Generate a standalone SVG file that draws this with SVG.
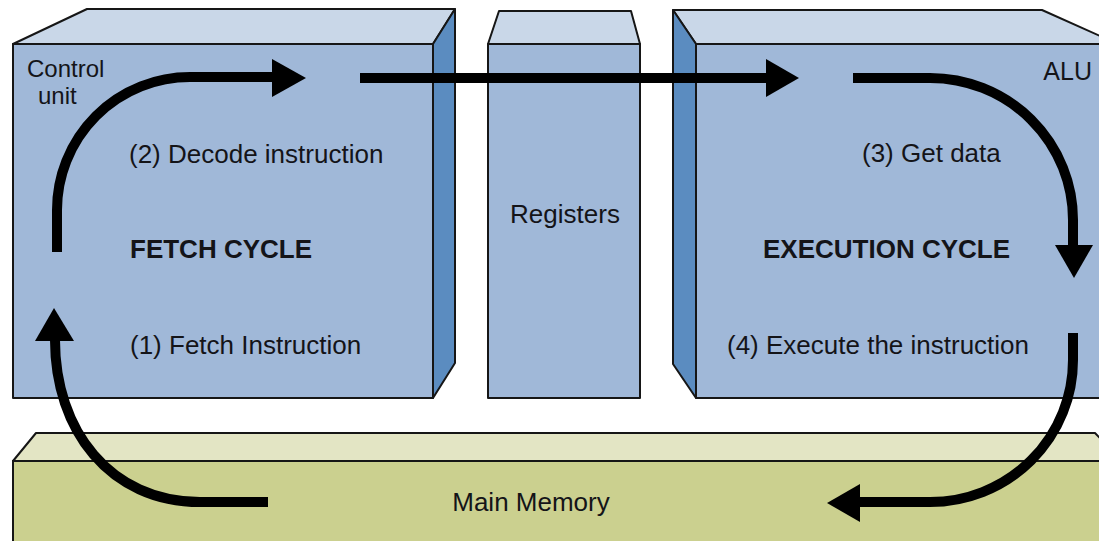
<svg xmlns="http://www.w3.org/2000/svg" width="1099" height="541" viewBox="0 0 1099 541">
<style>
.front{fill:#a0b8d8;stroke:#161616;stroke-width:2;stroke-linejoin:round}
.top{fill:#c9d7e8;stroke:#161616;stroke-width:2;stroke-linejoin:round}
.side{fill:#5b8cc0;stroke:#161616;stroke-width:2;stroke-linejoin:round}
.mfront{fill:#cbd08f;stroke:#161616;stroke-width:2}
.mtop{fill:#e3e5c4;stroke:#161616;stroke-width:2;stroke-linejoin:round}
.t{font-family:"Liberation Sans",Arial,sans-serif;font-size:26px;fill:#141418}
.s{font-size:25px}
.c{font-size:24px}
.b{font-weight:bold}
.arc{fill:none;stroke:#000;stroke-width:10}
.head{fill:#000}
</style>
<rect width="1099" height="541" fill="#fff"/>
<g id="memory">
<polygon class="mtop" points="13,461 36,433 1095,433 1122,461"/>
<rect class="mfront" x="13" y="461" width="1110" height="90"/>
<text class="t" x="531" y="511" text-anchor="middle">Main Memory</text>
</g>
<g id="control-unit">
<polygon class="top" points="13,44 87,9 455,9 433,44"/>
<polygon class="side" points="433,44 455,9 455,363 433,398"/>
<rect class="front" x="13" y="44" width="420" height="354"/>
<text class="t c" x="27" y="77">Control</text>
<text class="t c" x="38" y="104">unit</text>
<text class="t" x="129" y="163">(2) Decode instruction</text>
<text class="t b" x="130" y="258">FETCH CYCLE</text>
<text class="t" x="130" y="354">(1) Fetch Instruction</text>
</g>
<g id="registers">
<polygon class="top" points="488,44 499,11 631,11 640,44"/>
<rect class="front" x="488" y="44" width="152" height="354"/>
<text class="t" x="565" y="223" text-anchor="middle">Registers</text>
</g>
<g id="alu">
<polygon class="top" points="673,10 1042,10 1118,44 696,44"/>
<polygon class="side" points="673,10 696,44 696,398 673,364"/>
<rect class="front" x="696" y="44" width="420" height="354"/>
<text class="t s" x="1092" y="80" text-anchor="end">ALU</text>
<text class="t" x="862" y="162">(3) Get data</text>
<text class="t b" x="763" y="258">EXECUTION CYCLE</text>
<text class="t" x="727" y="354">(4) Execute the instruction</text>
</g>
<g id="connectors">
<path class="arc" d="M57,252 L57,210 A133,133 0 0 1 190,77 L275,77"/>
<polygon class="head" points="272,59 272,97 306,78"/>
<path class="arc" d="M360,78 L770,78"/>
<polygon class="head" points="766,59 766,97 799,78"/>
<path class="arc" d="M853,78 L930,78 A143,142 0 0 1 1073,220 L1073,248"/>
<polygon class="head" points="1055,245 1093,245 1074,278"/>
<path class="arc" d="M1073,333 L1073,360 A143,142 0 0 1 930,502 L856,502"/>
<polygon class="head" points="860,484 860,522 827,503"/>
<path class="arc" d="M268,502 L200,502 C110,502 55,430 55,340"/>
<polygon class="head" points="35,341 74,341 54,308"/>
</g>
</svg>
